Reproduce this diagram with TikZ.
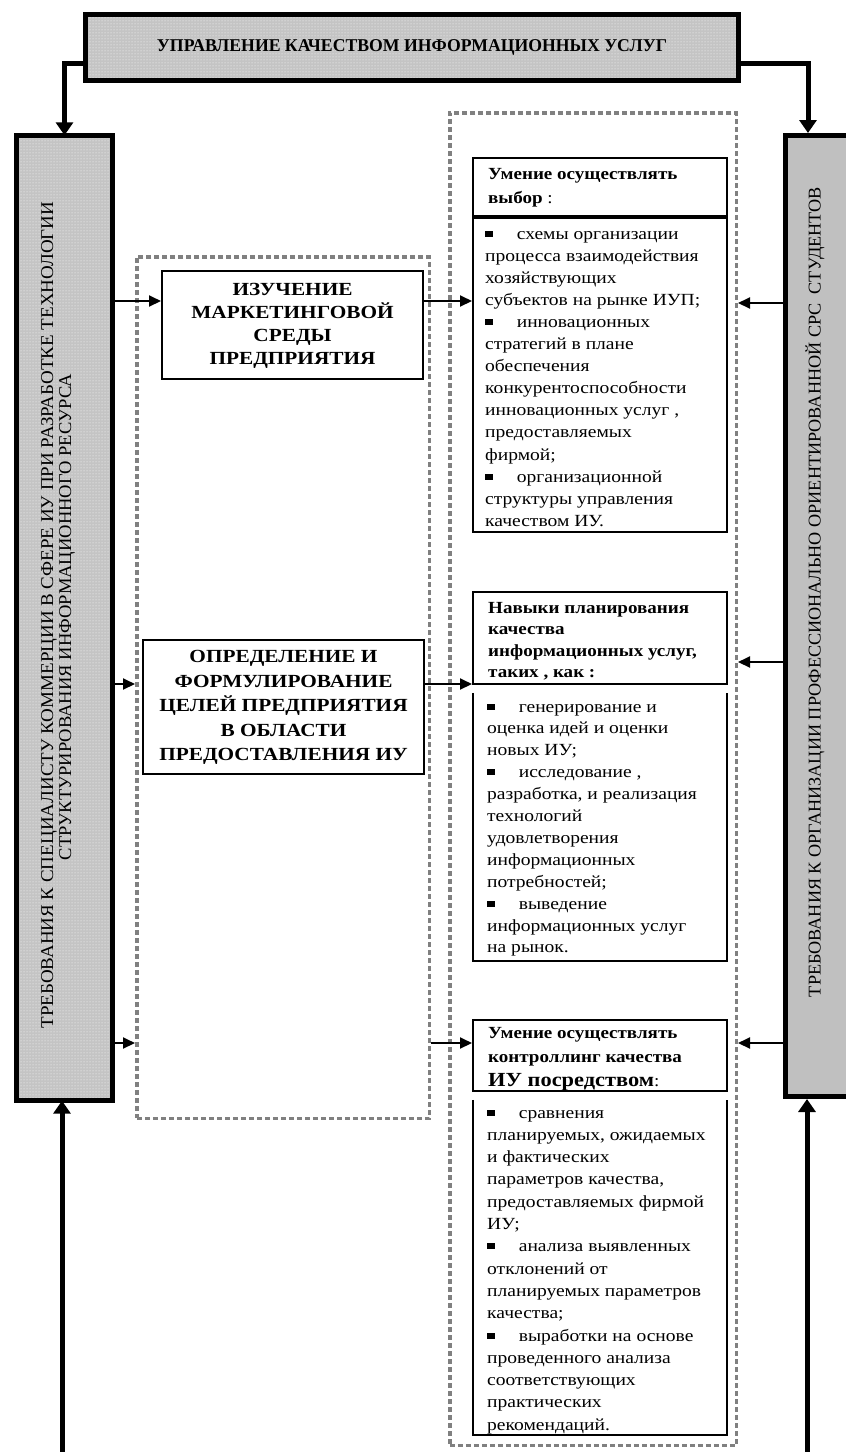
\documentclass[tikz,border=0pt]{standalone}
\usepackage{fontspec}
\setmainfont{Liberation Serif}
\usepackage{graphicx}
\usetikzlibrary{arrows.meta,patterns}
\definecolor{boxgray}{RGB}{196,196,196}
\definecolor{rgray}{RGB}{192,192,192}
\definecolor{frgray}{RGB}{128,128,128}
\newcommand\bul{\rule[2.5pt]{7pt}{6pt}\hspace{20.5pt}}
\newcommand\tblock[4]{\scalebox{#1}[1]{\fontsize{17}{#2}\selectfont#3\begin{tabular}[t]{@{}l@{}}#4\end{tabular}}}
\newcommand\cblock[3]{\scalebox{#1}[1]{\fontsize{18.5}{#2}\selectfont\bfseries\begin{tabular}{@{}c@{}}#3\end{tabular}}}
\begin{document}
\begin{tikzpicture}[x=1pt,y=-1pt,
  thickbox/.style={fill=boxgray, postaction={pattern=dots, pattern color=white}, postaction={draw=black, line width=5pt}, inner sep=0pt},
  solidbox/.style={fill=rgray, draw=black, line width=5pt, inner sep=0pt},
  frame/.style={draw=frgray, line width=3.5pt, dash pattern=on 5pt off 3pt, inner sep=0pt},
  thinbox/.style={draw=black, line width=2pt, inner sep=0pt},
  openbox/.style={inner sep=0pt},
  txt/.style={inner sep=0pt, anchor=base west},
  vtxt/.style={inner sep=0pt, rotate=90},
  link/.style={line width=2pt, -{Triangle[length=12pt,width=11pt]}},
  trunk/.style={line width=5pt, line join=miter, -{Triangle[length=13pt,width=17pt]}}
]
\useasboundingbox (0,0) rectangle (846,1452);

% frames
\node[frame, minimum width=292.5pt, minimum height=861.5pt] (lfrm) at (283,687.5) {};
\node[frame, minimum width=286.5pt, minimum height=1332.5pt] (rfrm) at (593,779) {};

% top box
\node[thickbox, minimum width=653pt, minimum height=66pt] (top) at (412,47.5)
  {\resizebox{510pt}{\height}{\bfseries\fontsize{18}{18}\selectfont УПРАВЛЕНИЕ КАЧЕСТВОМ ИНФОРМАЦИОННЫХ УСЛУГ}};

% left box
\node[thickbox, minimum width=96pt, minimum height=965pt] (lbox) at (64.5,618) {};
\node[vtxt] (ltxt1) at (49,615) {\resizebox{827pt}{\height}{\fontsize{18}{18}\selectfont ТРЕБОВАНИЯ К СПЕЦИАЛИСТУ КОММЕРЦИИ В СФЕРЕ ИУ ПРИ РАЗРАБОТКЕ ТЕХНОЛОГИИ}};
\node[vtxt] (ltxt2) at (67,617) {\resizebox{486pt}{\height}{\fontsize{18}{18}\selectfont СТРУКТУРИРОВАНИЯ ИНФОРМАЦИОННОГО РЕСУРСА}};

% right box
\node[solidbox, minimum width=63pt, minimum height=961pt] (rbox) at (817,616) {};
\node[vtxt] (rtxt) at (815,592) {\resizebox{810pt}{\height}{\fontsize{18}{18}\selectfont ТРЕБОВАНИЯ К ОРГАНИЗАЦИИ ПРОФЕССИОНАЛЬНО ОРИЕНТИРОВАННОЙ СРС~~СТУДЕНТОВ}};

% middle boxes
\node[thinbox, minimum width=261pt, minimum height=108pt] (b1) at (292.5,325)
  {\cblock{1.15}{23}{ИЗУЧЕНИЕ\\ МАРКЕТИНГОВОЙ\\ СРЕДЫ\\ ПРЕДПРИЯТИЯ}};
\node[thinbox, minimum width=281pt, minimum height=134pt] (b2) at (283.5,707)
  {\cblock{1.15}{24.5}{ОПРЕДЕЛЕНИЕ И\\ ФОРМУЛИРОВАНИЕ\\ ЦЕЛЕЙ ПРЕДПРИЯТИЯ\\ В ОБЛАСТИ\\ ПРЕДОСТАВЛЕНИЯ ИУ}};

% right column: block 1
\node[thinbox, minimum width=254pt, minimum height=58pt] (r1h) at (600,187) {};
\node[thinbox, minimum width=254pt, minimum height=314pt] (r1b) at (600,375) {};
\node[txt] (r1ht) at (488,179) {\tblock{1.12}{24}{\bfseries}{Умение осуществлять\\ выбор {\mdseries :}}};
\node[txt] (r1bt) at (485,239) {\tblock{1.15}{22.1}{}{\bul схемы организации\\
процесса взаимодействия\\
хозяйствующих\\
субъектов на рынке ИУП;\\
\bul инновационных\\
стратегий в плане\\
обеспечения\\
конкурентоспособности\\
инновационных услуг ,\\
предоставляемых\\
фирмой;\\
\bul организационной\\
структуры управления\\
качеством ИУ.}};

% block 2
\node[thinbox, minimum width=254pt, minimum height=92pt] (r2h) at (600,638) {};
\node[openbox, minimum width=254pt, minimum height=268pt] (r2b) at (600,827) {};
\draw[line width=2pt] (r2b.north west) -- (r2b.south west) -- (r2b.south east) -- (r2b.north east);
\node[txt] (r2ht) at (488,613) {\tblock{1.12}{21.5}{\bfseries}{Навыки планирования\\ качества\\ информационных услуг,\\ таких , как :}};
\node[txt] (r2bt) at (487,712) {\tblock{1.15}{21.9}{}{\bul генерирование и\\
оценка идей и оценки\\
новых ИУ;\\
\bul исследование ,\\
разработка, и реализация\\
технологий\\
удовлетворения\\
информационных\\
потребностей;\\
\bul выведение\\
информационных услуг\\
на рынок.}};

% block 3
\node[thinbox, minimum width=254pt, minimum height=71pt] (r3h) at (600,1055.5) {};
\node[openbox, minimum width=254pt, minimum height=335pt] (r3b) at (600,1267.5) {};
\draw[line width=2pt] (r3b.north west) -- (r3b.south west) -- (r3b.south east) -- (r3b.north east);
\node[txt] (r3ht) at (488,1038) {\tblock{1.12}{24}{\bfseries}{Умение осуществлять\\ контроллинг качества\\ {\fontsize{20}{20}\selectfont ИУ посредством}{\mdseries :}}};
\node[txt] (r3bt) at (487,1118) {\tblock{1.15}{22.3}{}{\bul сравнения\\
планируемых, ожидаемых\\
и фактических\\
параметров качества,\\
предоставляемых фирмой\\
ИУ;\\
\bul анализа выявленных\\
отклонений от\\
планируемых параметров\\
качества;\\
\bul выработки на основе\\
проведенного анализа\\
соответствующих\\
практических\\
рекомендаций.}};

% trunks from top box
\draw[trunk] (top.west |- 0,63) -| (lbox.north);
\draw[trunk] (top.east |- 0,63) -| (rbox.north -| 808,0);

% bottom trunks
\coordinate (lbot) at (62,1452);
\coordinate (rbot) at (807,1452);
\draw[trunk] (lbot) -- (lbox.south -| 62,0);
\draw[trunk] (rbot) -- (rbox.south -| 807,0);

% horizontal links
\draw[link] (lbox.east |- 0,301) -- (b1.west |- 0,301);
\draw[link] (b1.east |- 0,301) -- (r1b.west |- 0,301);
\draw[link] (rbox.west |- 0,303) -- (rfrm.east |- 0,303);
\draw[link] (lbox.east |- 0,684) -- (lfrm.west |- 0,684);
\draw[link] (b2.east |- 0,684) -- (r2h.west |- 0,684);
\draw[link] (rbox.west |- 0,662) -- (rfrm.east |- 0,662);
\draw[link] (lbox.east |- 0,1043) -- (lfrm.west |- 0,1043);
\draw[link] (lfrm.east |- 0,1043) -- (r3h.west |- 0,1043);
\draw[link] (rbox.west |- 0,1043) -- (rfrm.east |- 0,1043);
\end{tikzpicture}
\end{document}
